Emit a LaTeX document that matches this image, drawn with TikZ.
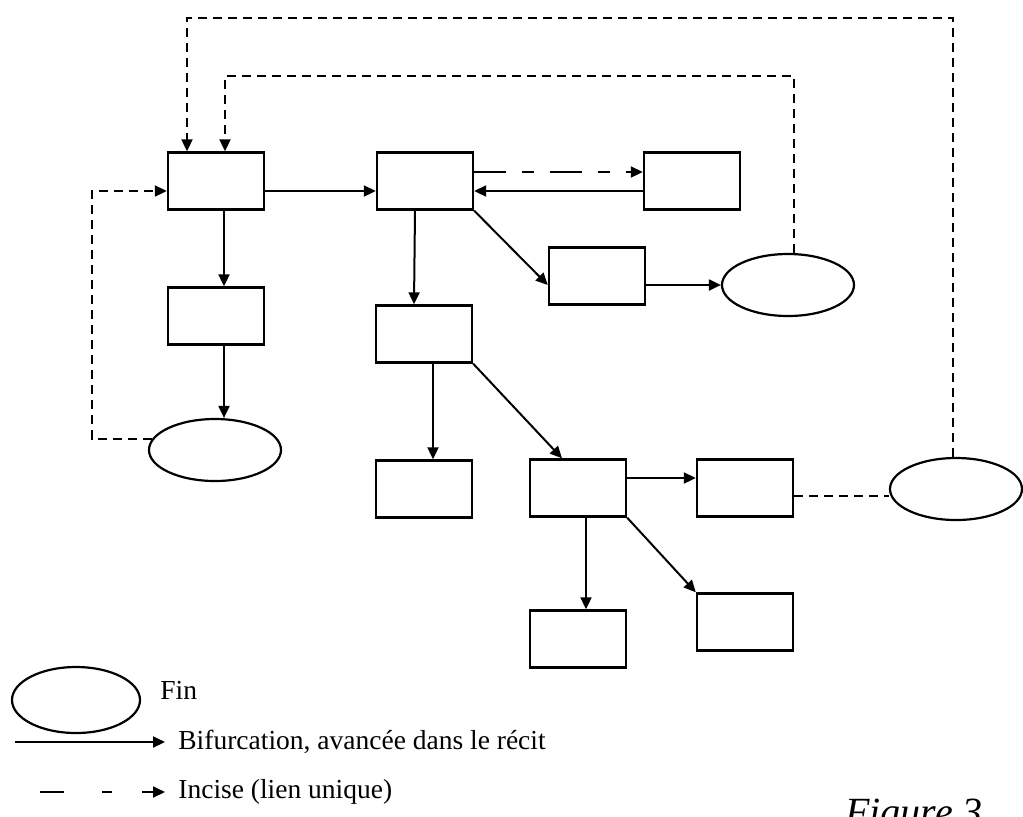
\documentclass[tikz,border=0pt]{standalone}
\usepackage{fontspec}
\setmainfont{Liberation Serif}
\usetikzlibrary{arrows.meta}
\usetikzlibrary{shapes.geometric}

\begin{document}
\begin{tikzpicture}[x=0.5pt, y=-0.5pt, inner sep=0pt,
  font=\fontsize{13.75}{16}\selectfont,
  bloc/.style={draw, line width=1.2pt, minimum width=48pt, minimum height=28.5pt},
  fin/.style={draw, ellipse, line width=1.1pt, minimum width=66pt, minimum height=31pt},
  bif/.style={line width=1pt, -{Triangle[length=6pt,width=5.5pt]}},
  inc/.style={line width=1pt, dash pattern=on 4.5pt off 3pt},
  incarrow/.style={inc, -{Triangle[length=6pt,width=5.5pt]}}]
\useasboundingbox (0,0) rectangle (1023,816);

% les blocs
\node[bloc] (A) at (216,181) {};
\node[bloc] (B) at (425,181) {};
\node[bloc] (C) at (692,181) {};
\node[bloc] (D) at (216,316) {};
\node[bloc] (E) at (597,276) {};
\node[bloc] (G) at (424,334) {};
\node[bloc] (H) at (424,489) {};
\node[bloc] (I) at (578,488) {};
\node[bloc] (J) at (745,488) {};
\node[bloc] (K) at (578,639) {};
\node[bloc] (L) at (745,622) {};
\node[fin] (F1) at (788,285) {};
\node[fin] (F2) at (215,450) {};
\node[fin] (F3) at (956,489) {};

\coordinate (hautext) at (0,18);
\coordinate (hautint) at (0,76);
\coordinate (gauche) at (92,0);

% bifurcations
\draw[bif] ([yshift=-5pt]A.east) -- ([yshift=-5pt]B.west);
\draw[bif] ([xshift=4pt]A.south) -- ([xshift=4pt]D.north);
\draw[bif] ([xshift=4pt]D.south) -- ([xshift=4pt]D.south |- F2.north);
\draw[bif] ([yshift=-5pt]C.west) -- ([yshift=-5pt]B.east);
\draw[bif] (B.south east) -- (E.west |- F1.west);
\draw[bif] (E.east |- F1.west) -- (F1.west);
\draw[bif] ([xshift=-5pt]B.south) -- ([xshift=-5pt]G.north);
\draw[bif] ([xshift=4.5pt]G.south) -- ([xshift=4.5pt]H.north);
\draw[bif] (G.south east) -- ([xshift=-8pt]I.north);
\draw[bif] ([yshift=5pt]I.east) -- ([yshift=5pt]J.west);
\draw[bif] ([xshift=4pt]I.south) -- ([xshift=4pt]K.north);
\draw[bif] (I.south east) -- (L.north west);

% incises
\draw[line width=1pt, dash pattern=on 16pt off 8pt on 6pt off 8pt,
  -{Triangle[length=6pt,width=5.5pt]}] ([yshift=4.5pt]B.east) -- ([yshift=4.5pt]C.west);
\draw[incarrow] (F2.170) -- (F2.170 -| gauche) -- ([yshift=-5pt]A.west -| gauche) -- ([yshift=-5pt]A.west);
\draw[incarrow] (F1.80) -- (F1.80 |- hautint) -- ([xshift=4.5pt]A.north |- hautint) -- ([xshift=4.5pt]A.north);
\draw[incarrow] (F3.95) -- (F3.95 |- hautext) -- ([xshift=-14.5pt]A.north |- hautext) -- ([xshift=-14.5pt]A.north);
\draw[inc] ([yshift=-4pt]J.east) -- ([yshift=-4pt]J.east -| F3.west);

% legende
\node[fin, minimum width=64pt, minimum height=33pt] (LF) at (76,700) {};
\node[anchor=west] (lfin) at (160,690) {Fin};
\coordinate (s1) at (15,742);
\coordinate (s2) at (165,742);
\draw[bif] (s1) -- (s2);
\node[anchor=west] (lbif) at (178,742) {Bifurcation, avancée dans le récit};
\coordinate (d1) at (40,792);
\coordinate (d2) at (165,792);
\draw[line width=1pt, dash pattern=on 12pt off 19pt on 5pt off 15pt,
  -{Triangle[length=6pt,width=5.5pt]}] (d1) -- (d2);
\node[anchor=west] (linc) at (178,792) {Incise (lien unique)};
\node[anchor=north west, font=\fontsize{20}{24}\selectfont\itshape] (titre) at (845,799) {Figure 3};
\end{tikzpicture}
\end{document}
